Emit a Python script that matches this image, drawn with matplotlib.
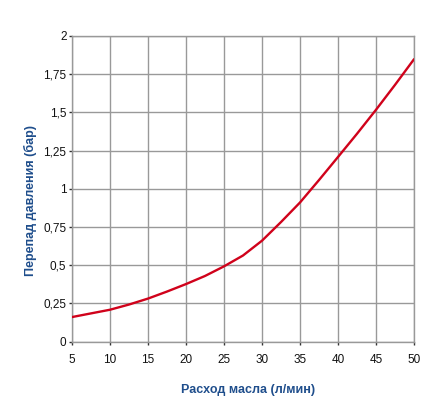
import matplotlib
matplotlib.use("Agg")
import matplotlib.pyplot as plt

flow = [5, 7.5, 10, 12.5, 15, 17.5, 20, 22.5, 25, 27.5, 30, 32.5, 35, 37.5, 40, 42.5, 45, 47.5, 50]
dp = [0.16, 0.184, 0.208, 0.242, 0.281, 0.327, 0.376, 0.429, 0.492, 0.563, 0.66, 0.782,
      0.91, 1.057, 1.208, 1.36, 1.517, 1.68, 1.848]
xticks = [5, 10, 15, 20, 25, 30, 35, 40, 45, 50]
yticks = [0, 0.25, 0.5, 0.75, 1, 1.25, 1.5, 1.75, 2]
ytick_labels = ["0", "0,25", "0,5", "0,75", "1", "1,25", "1,5", "1,75", "2"]

plt.rcParams['font.family'] = ['Liberation Sans', 'DejaVu Sans']

fig = plt.figure(figsize=(4.44, 4.17), dpi=100)
ax = fig.add_axes([72/444, 1-341.5/417, (414-72)/444, (341.5-36)/417])

ax.plot(flow, dp, color='#D0021B', lw=1.7, solid_capstyle='round',
        solid_joinstyle='round', zorder=3)

ax.set_xlim(5, 50)
ax.set_ylim(0, 2)
ax.set_xticks(xticks)
ax.set_xticklabels([str(t) for t in xticks])
ax.set_yticks(yticks)
ax.set_yticklabels(ytick_labels)
ax.grid(True, color='#999999', lw=1)
for s in ax.spines.values():
    s.set_color('#999999')
    s.set_linewidth(1)
ax.tick_params(axis='both', length=2.4, width=1, color='#333333', labelsize=8.5,
               labelcolor='#111111')
ax.tick_params(axis='x', pad=6.6)
ax.tick_params(axis='y', pad=1.6)

ax.set_xlabel("Расход масла (л/мин)", fontsize=9, fontweight='bold', color='#1F4E8C')
ax.set_ylabel("Перепад давления (бар)", fontsize=9, fontweight='bold', color='#1F4E8C')
ax.xaxis.set_label_coords((248.5-72)/342, -(390-341.5)/305.5, transform=ax.transAxes)
ax.xaxis.label.set_va('center')
ax.yaxis.set_label_coords(-(72-30)/342, (341.5-201)/305.5, transform=ax.transAxes)
ax.yaxis.label.set_va('center')

fig.savefig("out.png", dpi=100)
